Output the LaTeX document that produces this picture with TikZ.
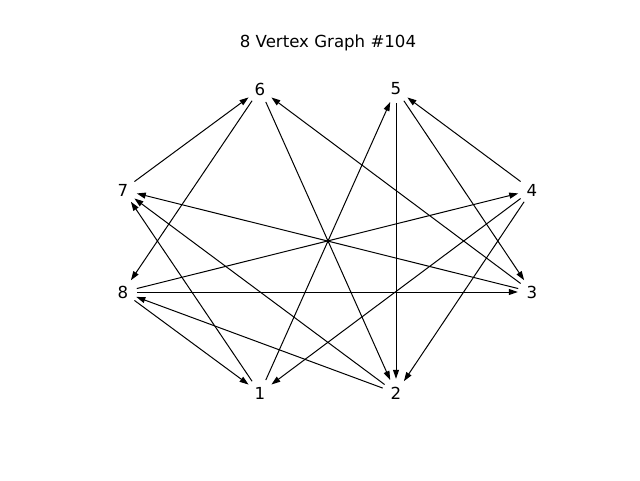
\documentclass[tikz,border=0pt]{standalone}
\usepackage{fontspec}
\setmainfont{DejaVu Sans}
\usetikzlibrary{arrows.meta}
\begin{document}
\begin{tikzpicture}[x=1pt,y=1pt,
  vtx/.style={circle,inner sep=0pt,minimum size=26pt,font=\fontsize{16.6}{18}\selectfont},
  edge/.style={-{Triangle[length=9pt,width=6pt]},line width=1pt,shorten >=1pt,shorten <=1pt}]
\useasboundingbox (0,0) rectangle (640,480);
\node[font=\fontsize{16.6}{18}\selectfont] (title) at (328,437) {8 Vertex Graph \#104};
\node[vtx] (n6) at (260,391) {6};
\node[vtx] (n5) at (396,391) {5};
\node[vtx] (n7) at (123,290) {7};
\node[vtx] (n4) at (532,290) {4};
\node[vtx] (n8) at (123,188) {8};
\node[vtx] (n3) at (532,188) {3};
\node[vtx] (n1) at (260,87) {1};
\node[vtx] (n2) at (396,87) {2};
\draw[edge] (n7) -- (n6);
\draw[edge] (n6) -- (n8);
\draw[edge] (n6) -- (n2);
\draw[edge] (n3) -- (n6);
\draw[edge] (n1) -- (n5);
\draw[edge] (n5) -- (n2);
\draw[edge] (n5) -- (n3);
\draw[edge] (n4) -- (n5);
\draw[edge] (n3) -- (n7);
\draw[edge] (n2) -- (n7);
\draw[edge] (n1) -- (n7);
\draw[edge] (n8) -- (n4);
\draw[edge] (n4) -- (n1);
\draw[edge] (n4) -- (n2);
\draw[edge] (n8) -- (n3);
\draw[edge] (n8) -- (n1);
\draw[edge] (n2) -- (n8);
\end{tikzpicture}
\end{document}
